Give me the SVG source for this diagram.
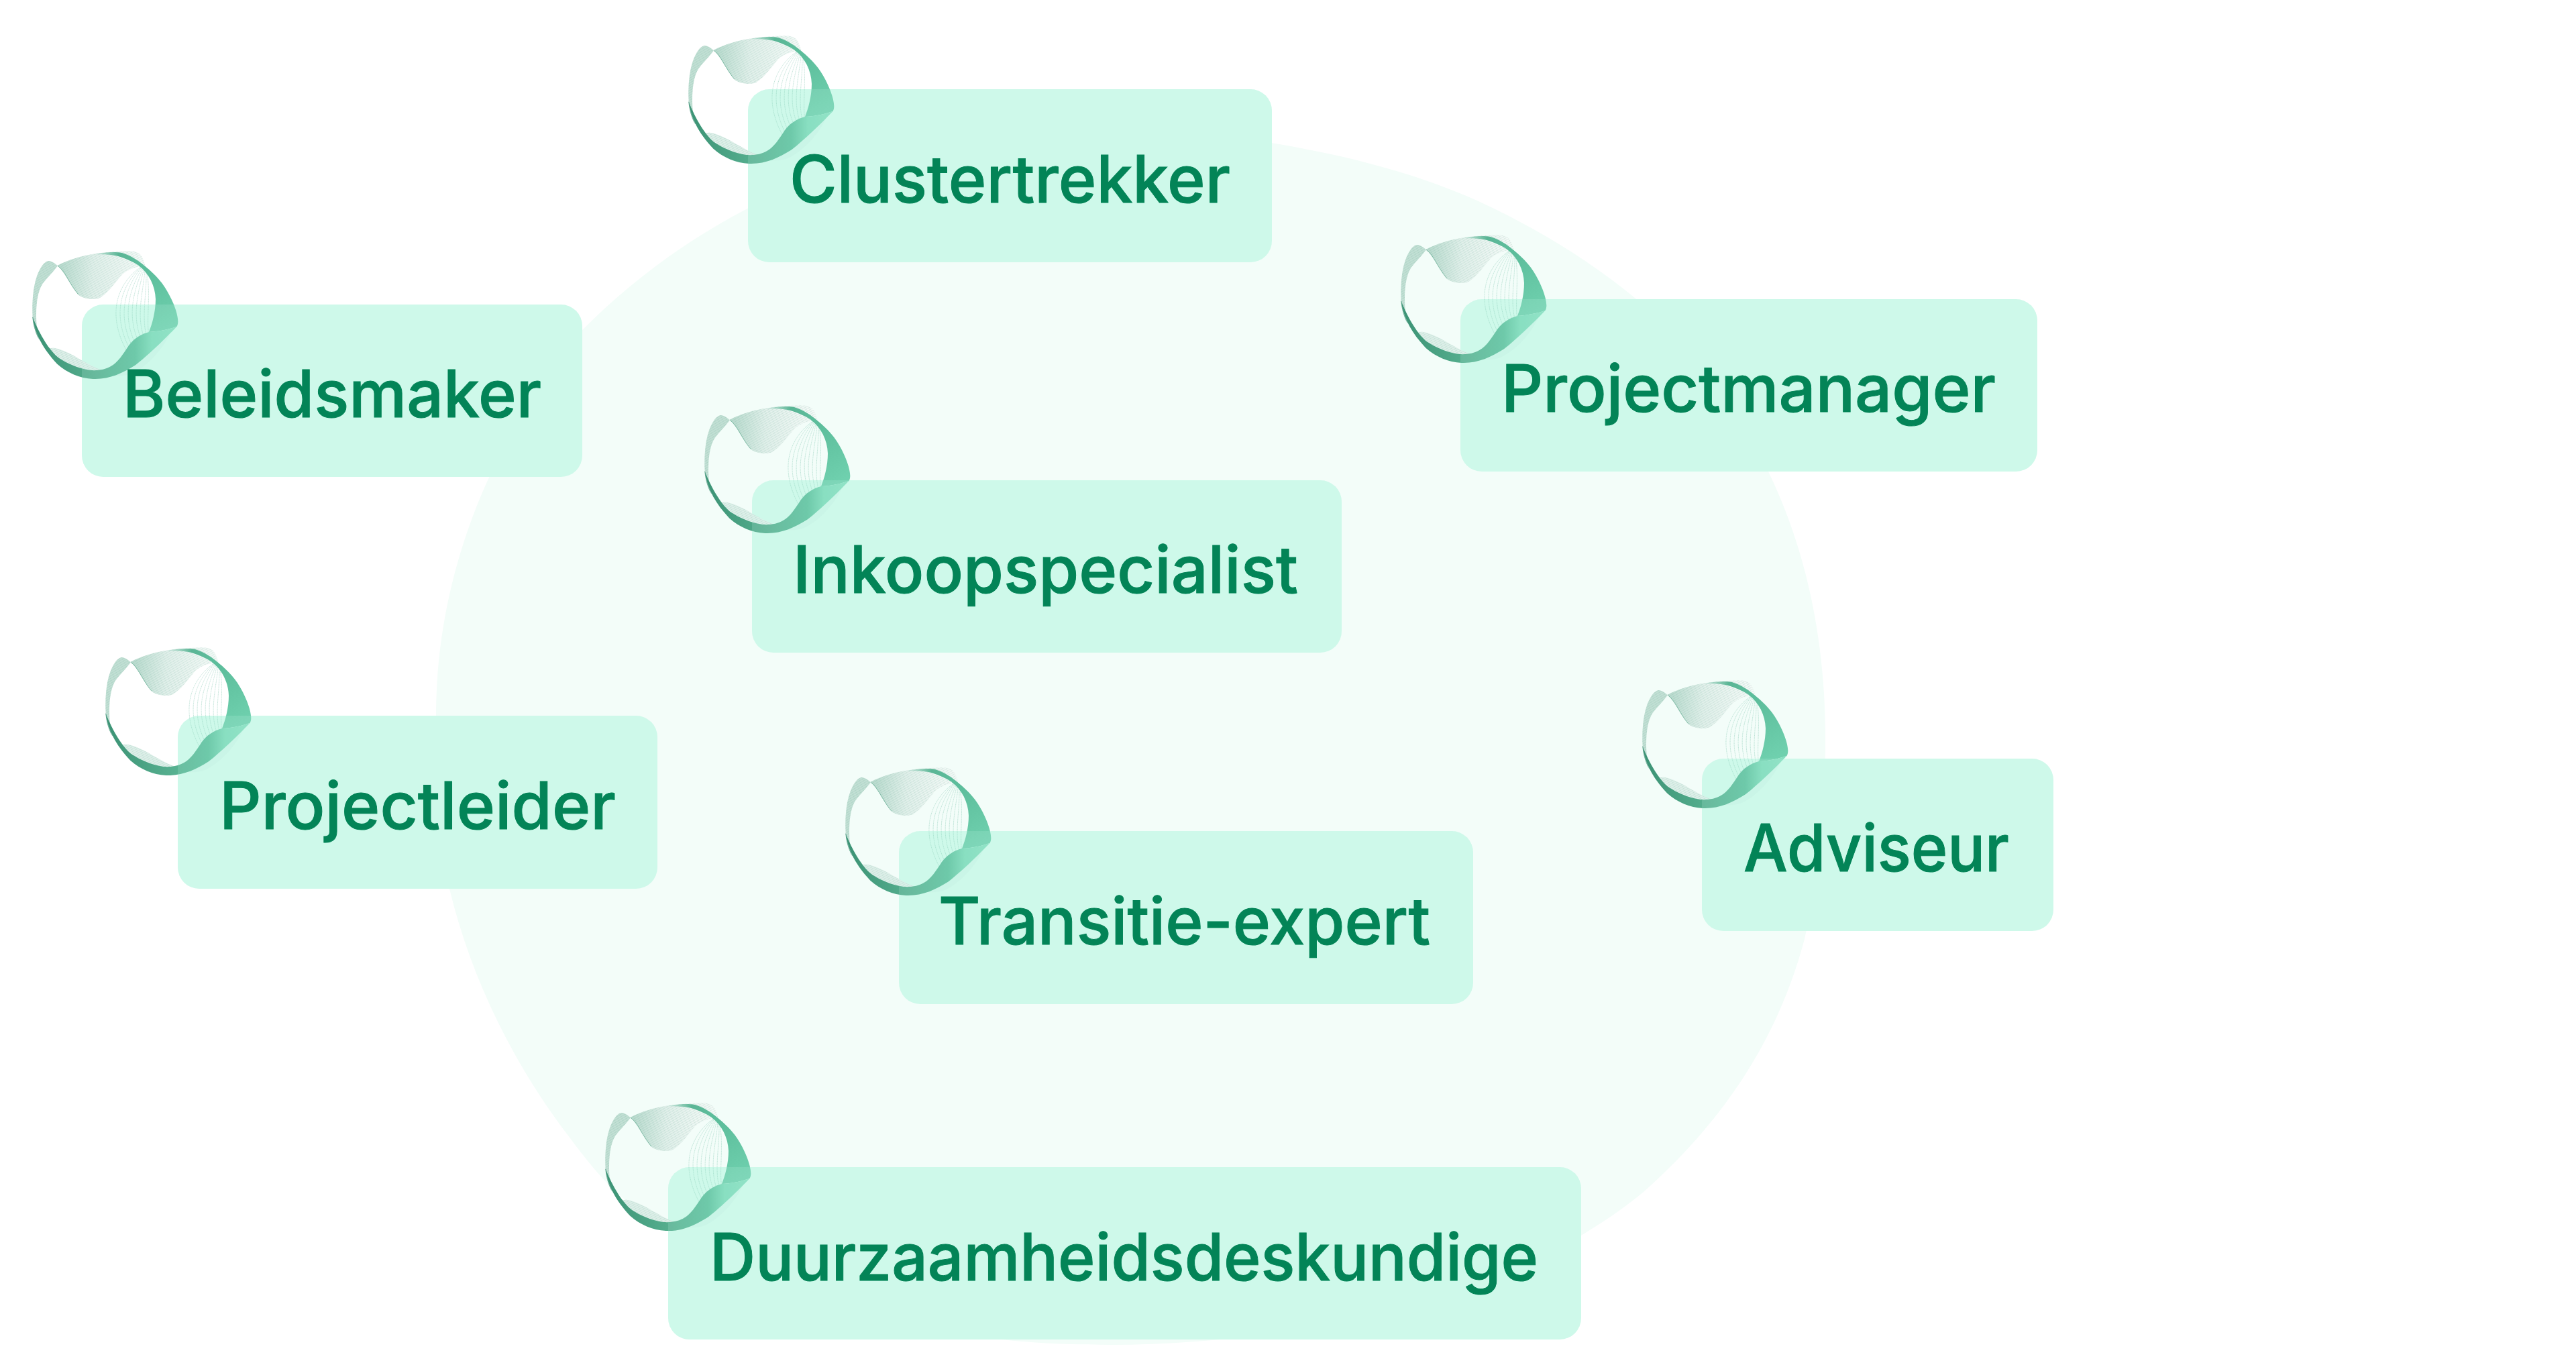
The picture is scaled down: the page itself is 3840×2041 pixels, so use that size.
<svg xmlns="http://www.w3.org/2000/svg" width="3840" height="2041" viewBox="0 0 3840 2041">
<style>
.box{fill:#cff9ea}
.veil{fill:#cff9ea;opacity:.16}
.lbl{font-family:"Inter","Liberation Sans",sans-serif;font-weight:500;font-size:97px;fill:#038457;stroke:#038457;stroke-width:1}
.fan{fill:none;stroke:#5cb598;stroke-width:1.8;stroke-opacity:.65;stroke-dasharray:3 2}
</style>
<defs>
<linearGradient id="bandG" gradientUnits="userSpaceOnUse" x1="40" y1="400" x2="665" y2="400">
<stop offset="0" stop-color="#3d9476"/><stop offset=".42" stop-color="#55ae8e"/><stop offset=".7" stop-color="#5cc09d"/><stop offset=".82" stop-color="#7cdab9"/><stop offset="1" stop-color="#86dfc0"/>
</linearGradient>
<linearGradient id="topG" gradientUnits="userSpaceOnUse" x1="150" y1="100" x2="500" y2="100">
<stop offset="0" stop-color="#bcdcd0"/><stop offset=".4" stop-color="#e2f0eb"/><stop offset="1" stop-color="#f5faf8"/>
</linearGradient>
<linearGradient id="arcG" gradientUnits="userSpaceOnUse" x1="290" y1="30" x2="530" y2="80">
<stop offset="0" stop-color="#5cb898" stop-opacity=".05"/><stop offset=".45" stop-color="#5ab595"/><stop offset="1" stop-color="#5fc09e"/>
</linearGradient>
<linearGradient id="rightG" gradientUnits="userSpaceOnUse" x1="520" y1="100" x2="640" y2="340">
<stop offset="0" stop-color="#5cbd9b"/><stop offset="1" stop-color="#6fd0ae"/>
</linearGradient>
<pattern id="moire" width="7" height="7" patternUnits="userSpaceOnUse" patternTransform="rotate(22)">
<path d="M0 3.5H7" stroke="#4f9c82" stroke-width="1.5" stroke-opacity=".28"/>
</pattern>
<g id="ribbon" transform="scale(.33333)">
<path fill="url(#topG)" d="M130 75C180 50 240 30 300 22C350 14 400 12 450 10C490 10 505 22 515 50L525 78C500 78 450 85 420 115C390 150 360 195 320 220C300 228 260 228 230 210C195 180 165 100 130 75Z"/>
<path fill="url(#moire)" d="M130 75C180 50 240 30 300 22C350 14 400 12 450 10C490 10 505 22 515 50L525 78C500 78 450 85 420 115C390 150 360 195 320 220C300 228 260 228 230 210C195 180 165 100 130 75Z"/>
<path fill="none" stroke="#4d9f83" stroke-width="3" stroke-opacity=".55" d="M132 76C165 98 180 150 225 205"/>
<path fill="#c3e0d5" d="M20 305C16 240 22 170 38 125C52 85 72 55 92 54C110 56 120 66 132 76C115 100 85 130 65 155C42 190 33 250 37 330L45 400C30 370 22 340 20 305Z"/>
<path fill="url(#moire)" d="M20 305C16 240 22 170 38 125C52 85 72 55 92 54C110 56 120 66 132 76C115 100 85 130 65 155C42 190 33 250 37 330L45 400C30 370 22 340 20 305Z"/>
<path fill="none" stroke="#3d8f73" stroke-width="3" stroke-opacity=".6" d="M20 305C24 340 33 375 50 405"/>
<path fill="#dff0ea" d="M95 445C110 440 140 445 190 470C225 488 280 525 330 542C285 548 235 540 190 520C150 500 118 475 95 445Z"/>
<path fill="url(#moire)" d="M95 445C110 440 140 445 190 470C225 488 280 525 330 542C285 548 235 540 190 520C150 500 118 475 95 445Z"/>
<path fill="#bfeee0" fill-opacity=".35" d="M640 370C600 450 540 520 470 555C440 568 410 570 385 566C440 545 500 490 560 420Z"/>
<g class="fan">
<path d="M505 80C430 130 330 260 445 465"/><path d="M507 80C445 135 355 265 458 455"/><path d="M509 80C460 140 380 270 470 445"/><path d="M512 82C475 145 405 275 482 430"/><path d="M515 84C490 150 430 280 494 415"/><path d="M518 86C505 155 455 285 505 402"/><path d="M522 90C520 165 480 290 517 392"/><path d="M526 95C535 175 505 295 528 384"/><path d="M530 100C548 190 530 300 538 376"/>
</g>
<path fill="url(#arcG)" d="M290 25C330 16 385 11 420 18C460 30 500 55 535 90L500 78C465 55 425 36 385 29C350 24 320 24 290 25Z"/>
<path fill="url(#rightG)" d="M495 58C535 85 580 125 610 170C640 215 670 285 670 325C670 335 668 342 665 347C625 362 580 370 540 372C555 335 570 280 570 225C568 165 540 110 495 76Z"/>
<path fill="url(#bandG)" d="M20 305C30 375 60 440 130 515C175 555 230 578 290 582C360 585 420 558 480 520C540 472 610 405 665 347C625 362 580 370 540 372C500 382 470 405 450 432C425 470 400 510 370 525C345 540 315 545 280 543C220 535 170 510 140 490C95 458 50 380 20 305Z"/>
</g>
</defs>
<g id="backdrop"><path fill="#f3fdf9" d="M1685 197C1760 197 1830 203 1895 213C2010 232 2110 258 2204 300C2290 340 2365 385 2437 444C2520 515 2590 610 2636 703C2695 825 2721 960 2721 1100C2721 1205 2712 1300 2690 1400C2650 1550 2570 1670 2450 1777C2420 1802 2390 1822 2357 1842C2200 1940 2000 1985 1819 1997C1765 2002 1710 2005 1656 2005C1600 2005 1545 2003 1493 1997C1300 1965 1040 1880 921 1780C895 1755 872 1727 850 1697C760 1580 700 1450 670 1325C655 1240 650 1150 650 1067C650 940 680 820 727 716C765 640 810 560 867 493C940 420 1020 360 1116 310C1280 225 1480 197 1685 197Z"/></g>
<g id="connectors"></g>
<g id="node-clustertrekker"><rect class="box" x="1115" y="133" width="781" height="258" rx="32"/><g transform="translate(1020 50)"><use href="#ribbon"/></g><rect class="veil" x="1115" y="133" width="781" height="258" rx="32"/><text class="lbl" x="1177" y="302" textLength="657" lengthAdjust="spacingAndGlyphs">Clustertrekker</text></g>
<g id="node-beleidsmaker"><rect class="box" x="122" y="454" width="746" height="257" rx="32"/><g transform="translate(42 371)"><use href="#ribbon"/></g><rect class="veil" x="122" y="454" width="746" height="257" rx="32"/><text class="lbl" x="183" y="622" textLength="624" lengthAdjust="spacingAndGlyphs">Beleidsmaker</text></g>
<g id="node-projectmanager"><rect class="box" x="2177" y="446" width="860" height="257" rx="32"/><g transform="translate(2082 347)"><use href="#ribbon"/></g><rect class="veil" x="2177" y="446" width="860" height="257" rx="32"/><text class="lbl" x="2238" y="614" textLength="737" lengthAdjust="spacingAndGlyphs">Projectmanager</text></g>
<g id="node-inkoopspecialist"><rect class="box" x="1121" y="716" width="879" height="257" rx="32"/><g transform="translate(1044 601)"><use href="#ribbon"/></g><rect class="veil" x="1121" y="716" width="879" height="257" rx="32"/><text class="lbl" x="1182" y="884" textLength="753" lengthAdjust="spacingAndGlyphs">Inkoopspecialist</text></g>
<g id="node-projectleider"><rect class="box" x="265" y="1067" width="715" height="258" rx="32"/><g transform="translate(151 962)"><use href="#ribbon"/></g><rect class="veil" x="265" y="1067" width="715" height="258" rx="32"/><text class="lbl" x="327" y="1236" textLength="591" lengthAdjust="spacingAndGlyphs">Projectleider</text></g>
<g id="node-adviseur"><rect class="box" x="2537" y="1131" width="524" height="257" rx="32"/><g transform="translate(2442 1011)"><use href="#ribbon"/></g><rect class="veil" x="2537" y="1131" width="524" height="257" rx="32"/><text class="lbl" x="2599" y="1299" textLength="396" lengthAdjust="spacingAndGlyphs">Adviseur</text></g>
<g id="node-transitie-expert"><rect class="box" x="1340" y="1239" width="856" height="258" rx="32"/><g transform="translate(1254 1141)"><use href="#ribbon"/></g><rect class="veil" x="1340" y="1239" width="856" height="258" rx="32"/><text class="lbl" x="1399" y="1408" textLength="733" lengthAdjust="spacingAndGlyphs">Transitie-expert</text></g>
<g id="node-duurzaamheidsdeskundige"><rect class="box" x="996" y="1740" width="1361" height="257" rx="32"/><g transform="translate(896 1641)"><use href="#ribbon"/></g><rect class="veil" x="996" y="1740" width="1361" height="257" rx="32"/><text class="lbl" x="1058" y="1909" textLength="1235" lengthAdjust="spacingAndGlyphs">Duurzaamheidsdeskundige</text></g>
</svg>
